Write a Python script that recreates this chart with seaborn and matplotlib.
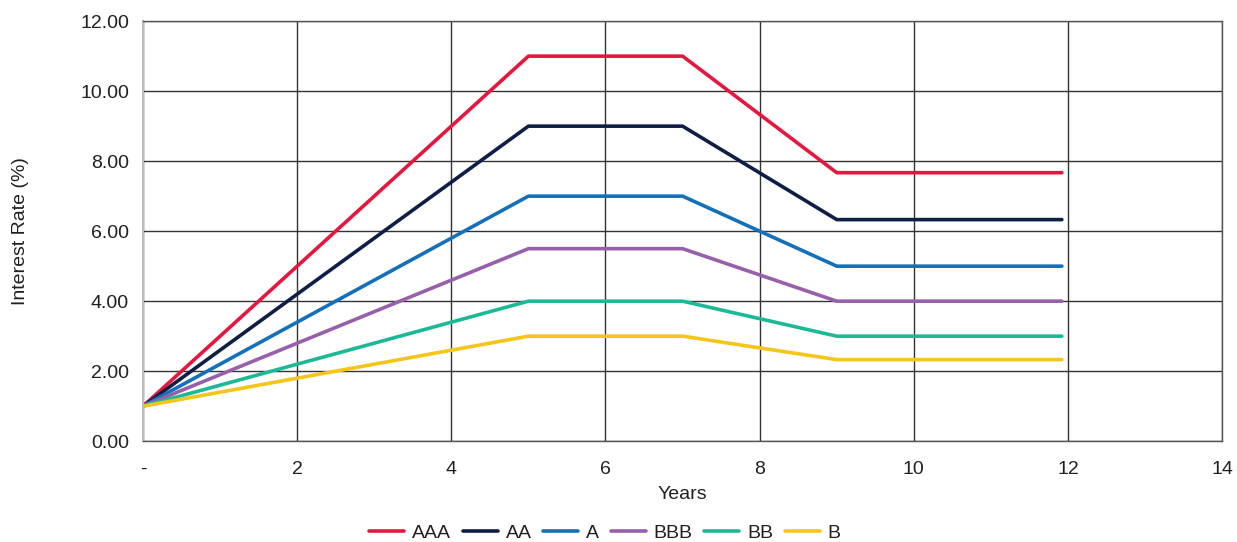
import pandas as pd
import matplotlib.pyplot as plt
import seaborn as sns

# データ
years = [0, 5, 7, 9, 11.92]
ratings = ['AAA', 'AA', 'A', 'BBB', 'BB', 'B']
aaa = [1.0, 11.0, 11.0, 7.67, 7.67]
aa = [1.0, 9.0, 9.0, 6.33, 6.33]
a = [1.0, 7.0, 7.0, 5.0, 5.0]
bbb = [1.0, 5.5, 5.5, 4.0, 4.0]
bb = [1.0, 4.0, 4.0, 3.0, 3.0]
b = [1.0, 3.0, 3.0, 2.33, 2.33]
colors = ['#E5173F', '#0F1E45', '#1470B9', '#9660AA', '#1DB996', '#F4C51B']

rows = []
for name, vals in zip(ratings, [aaa, aa, a, bbb, bb, b]):
    for x, y in zip(years, vals):
        rows.append({'Years': x, 'Rate': y, 'Rating': name})
df = pd.DataFrame(rows)

sns.set_style('white')
plt.rcParams['font.family'] = ['Liberation Sans', 'DejaVu Sans']
fs = 14

fig, ax = plt.subplots(figsize=(12.37, 5.42), dpi=100)
fig.subplots_adjust(left=0.1156, right=0.988, top=0.961, bottom=0.186)

sns.lineplot(data=df, x='Years', y='Rate', hue='Rating', hue_order=ratings,
             palette=colors, linewidth=2.6, ax=ax, legend=True)

ax.set_xlim(0, 14)
ax.set_ylim(0, 12)
ax.set_xticks(range(0, 15, 2))
ax.set_xticklabels(['-'] + [str(v) for v in range(2, 15, 2)])
ax.set_yticks(range(0, 13, 2))
ax.set_yticklabels([f'{v:.2f}' for v in range(0, 13, 2)])
ax.grid(True, color='#333333', linewidth=1.0)
ax.set_axisbelow(True)
for side in ['top', 'right', 'bottom']:
    ax.spines[side].set_color('#555555')
    ax.spines[side].set_linewidth(1.0)
ax.spines['left'].set_color('#BBBBBB')
ax.spines['left'].set_linewidth(1.5)
ax.tick_params(axis='both', length=0, labelsize=fs, colors='#231F20')
ax.tick_params(axis='x', pad=14)
ax.tick_params(axis='y', pad=10)
ax.set_xlabel('Years', fontsize=fs, color='#231F20', labelpad=6)
ax.set_ylabel('Interest Rate (%)', fontsize=fs, color='#231F20', labelpad=37)

ax.legend(loc='center', bbox_to_anchor=(0.428, -0.218), ncol=6, frameon=False,
          fontsize=fs, handlelength=1.8, columnspacing=0.6, handletextpad=0.4)
for t in ax.get_legend().get_texts():
    t.set_color('#231F20')

plt.savefig('out.png', dpi=100)
